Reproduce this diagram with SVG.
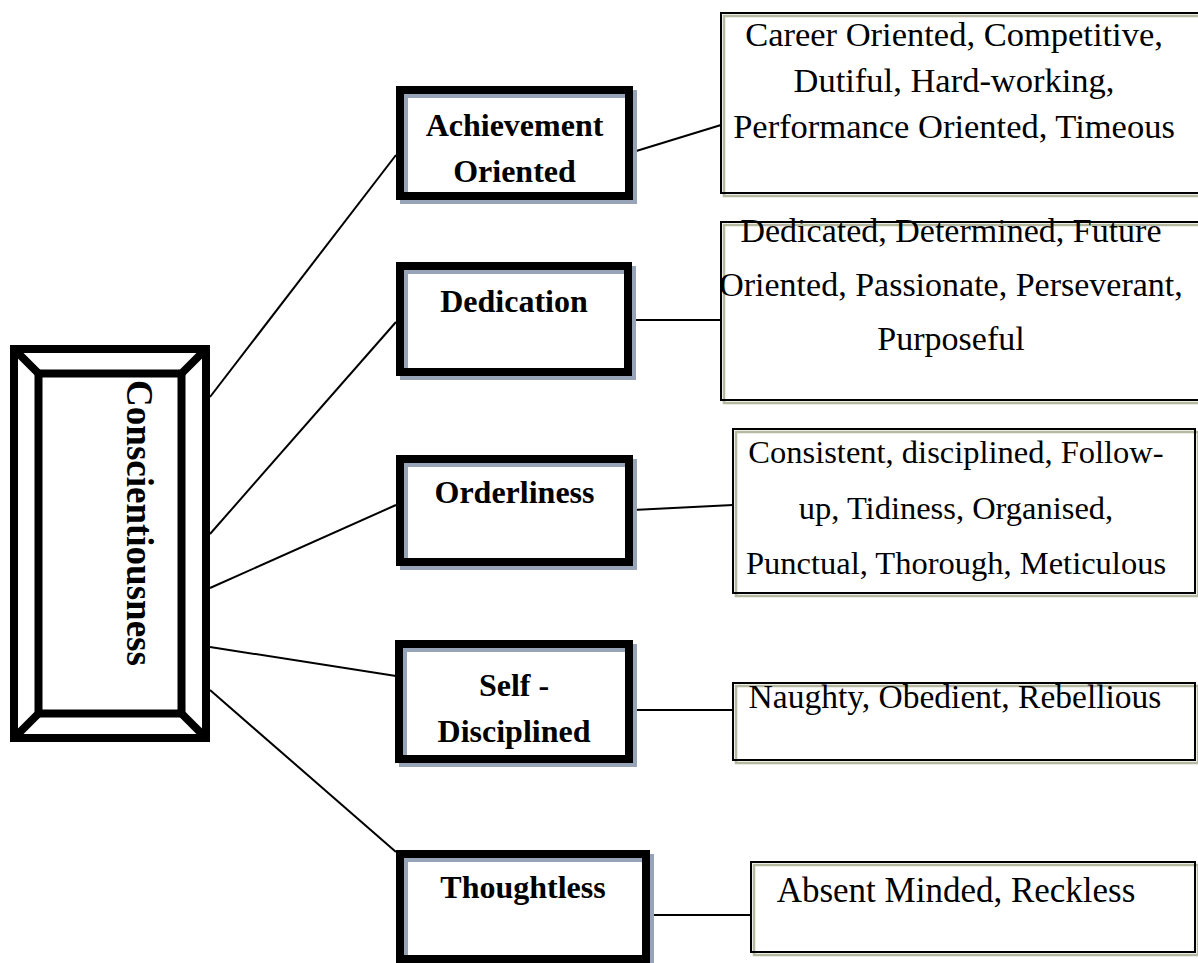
<svg xmlns="http://www.w3.org/2000/svg" width="1198" height="963" viewBox="0 0 1198 963">
<style>
.bg{fill:#ffffff}
.conn{stroke:#000;stroke-width:2;fill:none}
.mfill{fill:#ffffff}
.mshadow{fill:none;stroke:#97a4b8;stroke-width:8}
.mbox{fill:none;stroke:#000;stroke-width:8}
.rfill{fill:#ffffff}
.rshadow{fill:none;stroke:#b4b99f;stroke-width:2.5}
.rbox{fill:none;stroke:#000;stroke-width:2}
.frame{fill:none;stroke:#000;stroke-width:8}
.lbl{font-family:"Liberation Serif","Times New Roman",serif;font-weight:bold;font-size:32px;text-anchor:middle;fill:#000}
.txt{font-family:"Liberation Serif","Times New Roman",serif;font-size:34px;text-anchor:middle;fill:#000}
.main{font-family:"Liberation Serif","Times New Roman",serif;font-weight:bold;font-size:37px;text-anchor:middle;fill:#000}
</style>
<rect class="bg" x="0" y="0" width="1198" height="963"/>

<g id="connectors">
<line class="conn" x1="210" y1="397" x2="396" y2="155"/>
<line class="conn" x1="210" y1="534" x2="396" y2="322"/>
<line class="conn" x1="210" y1="588" x2="396" y2="505"/>
<line class="conn" x1="210" y1="647" x2="396" y2="676"/>
<line class="conn" x1="210" y1="690" x2="396" y2="852"/>
<line class="conn" x1="633" y1="152" x2="721" y2="125"/>
<line class="conn" x1="632" y1="320" x2="721" y2="320"/>
<line class="conn" x1="633" y1="510" x2="733" y2="505"/>
<line class="conn" x1="633" y1="710" x2="733" y2="710"/>
<line class="conn" x1="650" y1="915" x2="751" y2="915"/>
</g>

<g id="conscientiousness">
<rect x="14" y="349" width="192" height="389" fill="#fff"/>
<rect class="frame" x="14" y="349" width="192" height="389"/>
<rect class="frame" x="38.5" y="373.5" width="143" height="340"/>
<line class="frame" x1="14" y1="349" x2="38.5" y2="373.5"/>
<line class="frame" x1="206" y1="349" x2="181.5" y2="373.5"/>
<line class="frame" x1="14" y1="738" x2="38.5" y2="713.5"/>
<line class="frame" x1="206" y1="738" x2="181.5" y2="713.5"/>
<text class="main" transform="translate(127,523) rotate(90)" x="0" y="0">Conscientiousness</text>
</g>

<g id="achievement">
<rect class="mfill" x="400" y="90" width="229" height="106"/>
<rect class="mshadow" x="404" y="94" width="229" height="106"/>
<rect class="mbox" x="400" y="90" width="229" height="106"/>
<text class="lbl" x="514.5" y="136">Achievement</text>
<text class="lbl" x="514.5" y="182">Oriented</text>
</g>

<g id="dedication">
<rect class="mfill" x="400" y="266" width="228" height="106"/>
<rect class="mshadow" x="404" y="270" width="228" height="106"/>
<rect class="mbox" x="400" y="266" width="228" height="106"/>
<text class="lbl" x="514" y="312">Dedication</text>
</g>

<g id="orderliness">
<rect class="mfill" x="400" y="459" width="229" height="103"/>
<rect class="mshadow" x="404" y="463" width="229" height="103"/>
<rect class="mbox" x="400" y="459" width="229" height="103"/>
<text class="lbl" x="514.5" y="503">Orderliness</text>
</g>

<g id="self-disciplined">
<rect class="mfill" x="399" y="644" width="230" height="115"/>
<rect class="mshadow" x="403" y="648" width="230" height="115"/>
<rect class="mbox" x="399" y="644" width="230" height="115"/>
<text class="lbl" x="514" y="696">Self -</text>
<text class="lbl" x="514" y="742">Disciplined</text>
</g>

<g id="thoughtless">
<rect class="mfill" x="400" y="854" width="246" height="105"/>
<rect class="mshadow" x="404" y="858" width="246" height="105"/>
<rect class="mbox" x="400" y="854" width="246" height="105"/>
<text class="lbl" x="523" y="898">Thoughtless</text>
</g>

<g id="traits-achievement">
<rect class="rfill" x="721" y="13" width="500" height="180"/>
<rect class="rshadow" x="724" y="16" width="500" height="180"/>
<rect class="rbox" x="721" y="13" width="500" height="180"/>
<text class="txt" x="954" y="46" style="font-size:34.5px">Career Oriented, Competitive,</text>
<text class="txt" x="954" y="92" style="font-size:34.5px">Dutiful, Hard-working,</text>
<text class="txt" x="954" y="138" style="font-size:34.5px">Performance Oriented, Timeous</text>
</g>

<g id="traits-dedication">
<rect class="rfill" x="721" y="222" width="500" height="178"/>
<rect class="rshadow" x="724" y="225" width="500" height="178"/>
<rect class="rbox" x="721" y="222" width="500" height="178"/>
<text class="txt" x="951" y="242">Dedicated, Determined, Future</text>
<text class="txt" x="951" y="296">Oriented, Passionate, Perseverant,</text>
<text class="txt" x="951" y="350">Purposeful</text>
</g>

<g id="traits-orderliness">
<rect class="rfill" x="733" y="429" width="462" height="164"/>
<rect class="rshadow" x="736" y="432" width="462" height="164"/>
<rect class="rbox" x="733" y="429" width="462" height="164"/>
<text class="txt" x="956" y="463" style="font-size:32.5px">Consistent, disciplined, Follow-</text>
<text class="txt" x="956" y="519" style="font-size:32.5px">up, Tidiness, Organised,</text>
<text class="txt" x="956" y="574" style="font-size:32.5px">Punctual, Thorough, Meticulous</text>
</g>

<g id="traits-self-disciplined">
<rect class="rfill" x="733" y="683" width="462" height="77"/>
<rect class="rshadow" x="736" y="686" width="462" height="77"/>
<rect class="rbox" x="733" y="683" width="462" height="77"/>
<text class="txt" x="955" y="708" style="font-size:33.5px">Naughty, Obedient, Rebellious</text>
</g>

<g id="traits-thoughtless">
<rect class="rfill" x="751" y="862" width="444" height="90"/>
<rect class="rshadow" x="754" y="865" width="444" height="90"/>
<rect class="rbox" x="751" y="862" width="444" height="90"/>
<text class="txt" x="956" y="902" style="font-size:35px">Absent Minded, Reckless</text>
</g>
</svg>
